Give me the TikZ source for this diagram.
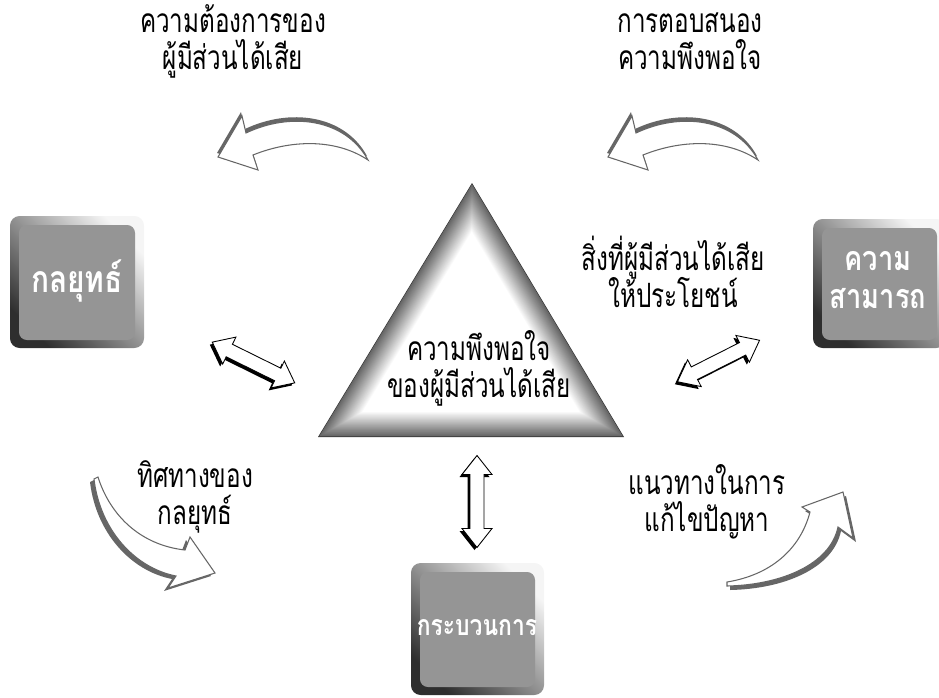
\documentclass[tikz,border=0pt]{standalone}
\usepackage{fontspec}
\newfontfamily\thai[Script=Thai]{Loma}
\usetikzlibrary{calc}
\definecolor{facegray}{HTML}{959595}
\definecolor{arrgray}{HTML}{666666}
\newcommand\stretchy[1]{\scalebox{1}[1.38]{#1}}
\newcommand\stretchb[1]{\scalebox{1}[1.25]{#1}}
\newcommand\tightlines{\lineskiplimit=-30pt\relax}
\newcommand\bevbox[4]{%
  \shade[rounded corners=5.5pt, top color=white!96!black, bottom color=black!82, shading angle=-45] (#1,#2) rectangle (#3,#4);
  \fill[facegray, rounded corners=4.5pt] (#1+9,#2+9) rectangle (#3-9,#4-8);
}
\newcommand\dblarr[4]{% name, cx, cy, angle
  \fill[black, shift={(#2-2.5,#3+2.5)}, rotate=#4]
    (-46,0) -- (-27,15) -- (-27,7) -- (27,7) -- (27,15) -- (46,0) -- (27,-15) -- (27,-7) -- (-27,-7) -- (-27,-15) -- cycle;
  \filldraw[fill=white, draw=black, line width=0.5pt, shift={(#2,#3)}, rotate=#4]
    (-46,0) -- (-27,15) -- (-27,7) -- (27,7) -- (27,15) -- (46,0) -- (27,-15) -- (27,-7) -- (-27,-7) -- (-27,-15) -- cycle;
  \coordinate (#1) at (#2,#3);
}
\tikzset{
  lbl/.style={font=\thai\fontsize{13.8}{21}\selectfont\tightlines, align=center, text=black, inner sep=0pt},
  boxlbl/.style={font=\thai\bfseries\fontsize{#1}{21.5}\selectfont\tightlines, align=center, text=white, inner sep=0pt},
  arrline/.style={fill=white, draw=arrgray, line width=0.6pt},
  arrshadow/.style={fill=arrgray},
  toparrow/.pic={
    \fill[arrshadow, shift={(-1,-4)}] (218,157) -- (242,116) -- (246,133) .. controls (290,112) and (345,118) .. (368,160) .. controls (335,138) and (290,140) .. (253,155) -- (258,170) -- cycle;
    \path[arrline] (218,157) -- (242,116) -- (246,133) .. controls (290,112) and (345,118) .. (368,160) .. controls (335,138) and (290,140) .. (253,155) -- (258,170) -- cycle;
  }
}
\begin{document}
\begin{tikzpicture}[x=0.02cm,y=-0.02cm]
\useasboundingbox (0,0) rectangle (939,697);
\clip (0,0) rectangle (939,697);

% triangle
\foreach \i in {0,...,40} {
  \pgfmathsetmacro\f{1-\i*0.29/40}
  \pgfmathsetmacro\k{\i==0 ? 80 : 62*(1-\i/40)}
  \fill[black!\k, scale around={\f:(471,350.6)}] (472,183) -- (318,437) -- (624,437) -- cycle;
}
\node[lbl] (tri) at (479,368) {\stretchy{ความพึงพอใจ}\\\stretchy{ของผู้มีส่วนได้เสีย}};

% boxes
\bevbox{10}{216}{144}{348}
\node[boxlbl=17] (bstrat) at (77,281) {\stretchb{กลยุทธ์}};
\bevbox{813}{219}{946}{348}
\node[boxlbl=15.5] (bcap) at (878,280) {\stretchb{ความ}\\\stretchb{สามารถ}};
\bevbox{411}{563}{544}{695}
\node[boxlbl=13] (bproc) at (477,628) {\stretchb{กระบวนการ}};

% labels
\node[lbl] (t1) at (233,41) {\stretchy{ความต้องการของ}\\\stretchy{ผู้มีส่วนได้เสีย}};
\node[lbl] (t2) at (690,41) {\stretchy{การตอบสนอง}\\\stretchy{ความพึงพอใจ}};
\node[lbl] (t3) at (673,272) {\stretchy{สิ่งที่ผู้มีส่วนได้เสีย}\\\stretchy{ให้ประโยชน์}};
\node[lbl] (t5) at (195,497) {\stretchy{ทิศทางของ}\\\stretchy{กลยุทธ์}};
\node[lbl] (t6) at (707,502) {\stretchy{แนวทางในการ}\\\stretchy{แก้ไขปัญหา}};

% curved arrows
\pic (tl) at (0,0) {toparrow};
\pic (tr) at (390,0) {toparrow};
\fill[arrshadow, shift={(-4,3)}] (98,477) .. controls (110,515) and (140,545) .. (185,550) -- (190,537) -- (215,573) -- (168,588) -- (176,576) .. controls (135,568) and (100,530) .. (94,479) -- cycle;
\path[arrline] (98,477) .. controls (110,515) and (140,545) .. (185,550) -- (190,537) -- (215,573) -- (168,588) -- (176,576) .. controls (135,568) and (100,530) .. (94,479) -- cycle;
\fill[arrshadow, shift={(3,4)}] (727,582) .. controls (770,575) and (800,550) .. (810,512) -- (802,507) -- (843,492) -- (853,538) -- (838,527) .. controls (830,565) and (780,585) .. (727,586) -- cycle;
\path[arrline] (727,582) .. controls (770,575) and (800,550) .. (810,512) -- (802,507) -- (843,492) -- (853,538) -- (838,527) .. controls (830,565) and (780,585) .. (727,586) -- cycle;

% double arrows
\dblarr{dl}{253.5}{362.5}{-26.3}
\dblarr{dr}{718.5}{361}{26.8}
\dblarr{dv}{477}{501.5}{90}
\end{tikzpicture}
\end{document}
